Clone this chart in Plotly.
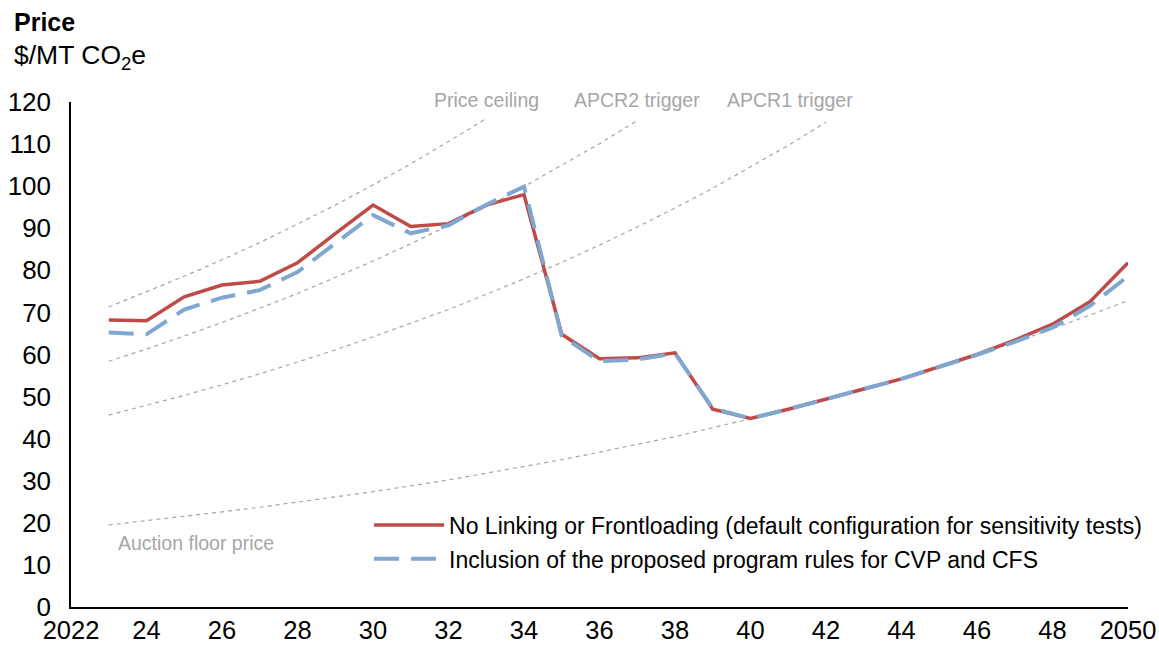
import plotly.graph_objects as go

years = list(range(2023, 2051))

no_linking = [68.2, 68.0, 73.7, 76.5, 77.4, 81.8, 88.7, 95.5, 90.4, 91.1, 95.5, 98.0,
              64.8, 59.0, 59.2, 60.4, 47.0, 44.8, 47.0, 49.3, 51.8, 54.2, 57.0, 60.0,
              63.4, 67.2, 72.6, 81.8]
proposed_rules = [65.2, 64.8, 70.7, 73.5, 75.3, 79.6, 86.4, 93.1, 88.8, 90.7, 95.6, 99.9,
                  64.4, 58.4, 58.8, 60.3, 47.2, 44.8, 47.0, 49.3, 51.8, 54.2, 57.0, 59.9,
                  63.0, 66.4, 71.6, 78.6]

ceiling_years = list(range(2023, 2034))
price_ceiling = [71.3, 74.9, 78.6, 82.5, 86.6, 91.0, 95.5, 100.3, 105.3, 110.6, 116.1]
apcr2_years = list(range(2023, 2038))
apcr2 = [58.4, 61.3, 64.4, 67.6, 71.0, 74.5, 78.3, 82.2, 86.3, 90.6, 95.1, 99.9,
         104.9, 110.1, 115.6]
apcr1_years = list(range(2023, 2043))
apcr1 = [45.6, 47.9, 50.3, 52.8, 55.4, 58.2, 61.1, 64.2, 67.4, 70.7, 74.3, 78.0,
         81.9, 86.0, 90.3, 94.8, 99.5, 104.5, 109.7, 115.2]
floor_years = list(range(2023, 2051))
auction_floor = [19.5, 20.5, 21.5, 22.6, 23.7, 24.9, 26.1, 27.4, 28.8, 30.2, 31.8, 33.4,
                 35.0, 36.8, 38.6, 40.5, 42.6, 44.7, 46.9, 49.3, 51.7, 54.3, 57.1, 59.9,
                 62.9, 66.1, 69.4, 72.8]

tick_vals = list(range(2022, 2051, 2))
tick_text = ["2022", "24", "26", "28", "30", "32", "34", "36", "38", "40", "42", "44", "46", "48", "2050"]

GREY = "#a6a6a6"
RED = "#be4b48"
BLUE = "#7ea7d1"

fig = go.Figure()

# reference price curves
for xs, ys in [(ceiling_years, price_ceiling), (apcr2_years, apcr2),
               (apcr1_years, apcr1), (floor_years, auction_floor)]:
    fig.add_trace(go.Scatter(x=xs, y=ys, mode="lines", showlegend=False, hoverinfo="skip",
                             line=dict(color=GREY, width=1.2, dash="4px,4px")))

fig.add_trace(go.Scatter(
    x=years, y=no_linking, mode="lines", legendgroup="a",
    name="No Linking or Frontloading (default configuration for sensitivity tests)",
    line=dict(color=RED, width=3.5)))
fig.add_trace(go.Scatter(
    x=years, y=proposed_rules, mode="lines", legendgroup="b",
    name="Inclusion of the proposed program rules for CVP and CFS",
    line=dict(color=BLUE, width=4, dash="25px,12px")))

# curve labels along the top edge
for txt, x in [("Price ceiling", 2033.0), ("APCR2 trigger", 2037.0), ("APCR1 trigger", 2041.05)]:
    fig.add_annotation(x=x, y=1, xref="x", yref="paper", text=txt, showarrow=False,
                       font=dict(size=19.5, color=GREY), xanchor="center", yanchor="middle", yshift=2)
fig.add_annotation(x=2025.3, y=15.2, text="Auction floor price", showarrow=False,
                   font=dict(size=19.5, color=GREY), xanchor="center", yanchor="middle")

fig.add_annotation(x=0, y=1, xref="paper", yref="paper", text="<b>Price</b>", showarrow=False,
                   xanchor="left", yanchor="middle", xshift=-59, yshift=80,
                   font=dict(size=25, color="black"))
fig.add_annotation(x=0, y=1, xref="paper", yref="paper", text="$/MT CO<sub>2</sub>e", showarrow=False,
                   xanchor="left", yanchor="middle", xshift=-59, yshift=45,
                   font=dict(size=26.5, color="black"))

fig.update_layout(
    width=1159, height=645,
    margin=dict(l=71, r=31, t=102, b=38),
    plot_bgcolor="white", paper_bgcolor="white",
    font=dict(family="Liberation Sans, Arial, sans-serif", color="black"),
    legend=dict(x=0.282, y=0.205, xanchor="left", yanchor="top", font=dict(size=23),
                itemwidth=70, bgcolor="rgba(0,0,0,0)", tracegroupgap=1),
    xaxis=dict(range=[2022, 2050], tickvals=tick_vals, ticktext=tick_text, showgrid=False,
               zeroline=False, showline=True, linecolor="black", linewidth=1.5,
               tickfont=dict(size=25.5), ticks="", automargin=False, ticklabelstandoff=0),
    yaxis=dict(range=[0, 120], dtick=10, showgrid=False, zeroline=False, showline=True,
               linecolor="black", linewidth=1.5, tickfont=dict(size=26), ticks="",
               automargin=False, ticklabelstandoff=13),
)

# drop the default page margin so the figure fills the window exactly
fig.write_html("out.html", config={"displayModeBar": False},
               post_script="document.body.style.margin='0';")
